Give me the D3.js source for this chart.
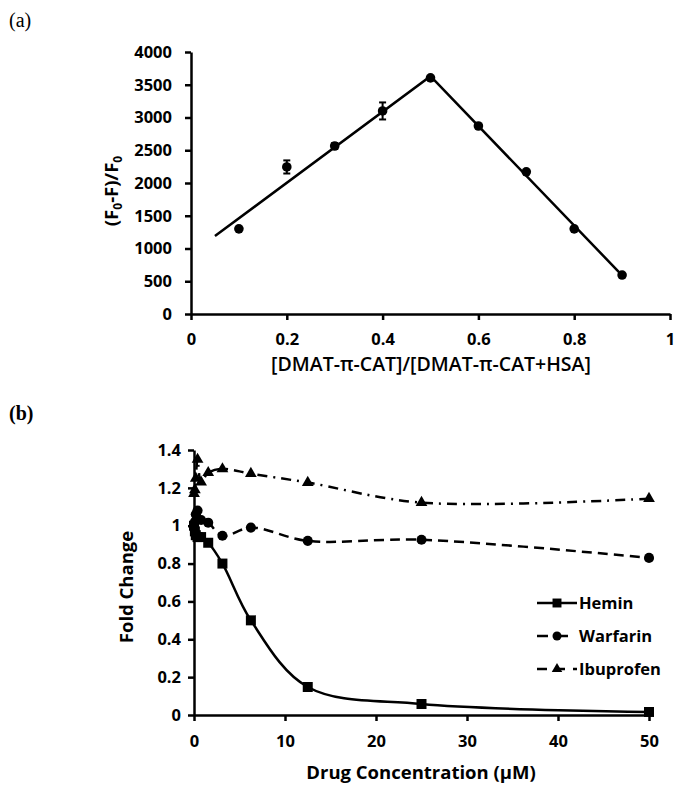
<!DOCTYPE html>
<html>
<head>
<meta charset="utf-8">
<script src="https://cdn.jsdelivr.net/npm/d3@7"></script>
<style>
  html, body { margin: 0; padding: 0; background: #fff; }
  svg { display: block; }
  .tick text { font-family: "Open Sans", Lato, sans-serif; font-weight: bold; font-size: 16.5px; fill: #000; }
  .domain, .tick line { stroke: #000; stroke-width: 2.5px; }
</style>
</head>
<body>
<svg id="chart" width="686" height="792"></svg>
<script>
// ---------- Panel (a) data ----------
const ratioA = [0.1, 0.2, 0.3, 0.4, 0.5, 0.6, 0.7, 0.8, 0.9];
const quenchA = [1300, 2245, 2565, 3100, 3605, 2870, 2170, 1300, 595];
const errA = [0, 100, 45, 130, 0, 0, 0, 0, 0];
const fitX = [0.05, 0.5, 0.9];
const fitY = [1190, 3630, 590];
const xTicksA = [0, 0.2, 0.4, 0.6, 0.8, 1];
const yTicksA = [0, 500, 1000, 1500, 2000, 2500, 3000, 3500, 4000];

// ---------- Panel (b) data ----------
const conc = [0, 0.098, 0.195, 0.39, 0.78, 1.5625, 3.125, 6.25, 12.5, 25, 50];
const hemin = [1.0, 0.97, 0.95, 0.94, 0.94, 0.91, 0.80, 0.50, 0.148, 0.058, 0.016];
const warfarin = [1.0, 1.02, 1.06, 1.08, 1.03, 1.016, 0.947, 0.99, 0.92, 0.926, 0.83];
const ibuprofen = [1.17, 1.19, 1.25, 1.35, 1.23, 1.28, 1.30, 1.275, 1.228, 1.122, 1.143];
const seriesNames = ["Hemin", "Warfarin", "Ibuprofen"];
const xTicksB = [0, 10, 20, 30, 40, 50];
const yTicksB = [0, 0.2, 0.4, 0.6, 0.8, 1, 1.2, 1.4];

const svg = d3.select("#chart");
const FONT = "'Open Sans', Lato, sans-serif";

// ================= Panel (a) =================
const xA = d3.scaleLinear().domain([0, 1]).range([191, 670]);
const yA = d3.scaleLinear().domain([0, 4000]).range([314, 52]);

svg.append("text").attr("x", 9).attr("y", 27)
  .attr("font-family", "'Liberation Serif', serif").attr("font-size", 20)
  .text("(a)");

svg.append("g").attr("transform", `translate(0,${yA(0)})`)
  .call(d3.axisBottom(xA).tickValues(xTicksA).tickFormat(d3.format("")).tickSize(6).tickSizeOuter(0).tickPadding(13));
svg.append("g").attr("transform", `translate(${xA(0)},0)`)
  .call(d3.axisLeft(yA).tickValues(yTicksA).tickFormat(d3.format("")).tickSize(6).tickSizeOuter(0).tickPadding(13));

const fitData = fitX.map((x, i) => [x, fitY[i]]);
svg.append("path").datum(fitData)
  .attr("fill", "none").attr("stroke", "#000").attr("stroke-width", 2.5)
  .attr("d", d3.line().x(d => xA(d[0])).y(d => yA(d[1])));

const ptsA = ratioA.map((x, i) => ({ x, y: quenchA[i], e: errA[i] }));
const eb = svg.append("g");
ptsA.filter(d => d.e > 0).forEach(d => {
  const cx = xA(d.x);
  eb.append("line").attr("x1", cx).attr("x2", cx).attr("y1", yA(d.y - d.e)).attr("y2", yA(d.y + d.e)).attr("stroke", "#000").attr("stroke-width", 2);
  [d.y - d.e, d.y + d.e].forEach(v => eb.append("line").attr("x1", cx - 3.5).attr("x2", cx + 3.5).attr("y1", yA(v)).attr("y2", yA(v)).attr("stroke", "#000").attr("stroke-width", 2));
});
svg.append("g").selectAll("circle").data(ptsA).join("circle")
  .attr("cx", d => xA(d.x)).attr("cy", d => yA(d.y)).attr("r", 4.8).attr("fill", "#000");

svg.append("text").attr("x", 431).attr("y", 371).attr("text-anchor", "middle")
  .attr("font-family", FONT).attr("font-size", 19.5).attr("font-weight", 600)
  .text("[DMAT-π-CAT]/[DMAT-π-CAT+HSA]");

const ytA = svg.append("text").attr("transform", "translate(118,191) rotate(-90)").attr("text-anchor", "middle")
  .attr("font-family", FONT).attr("font-size", 18.5).attr("font-weight", "bold");
ytA.append("tspan").text("(F");
ytA.append("tspan").attr("font-size", 12).attr("dy", 4).text("0");
ytA.append("tspan").attr("dy", -4).text("-F)/F");
ytA.append("tspan").attr("font-size", 12).attr("dy", 4).text("0");

// ================= Panel (b) =================
const xB = d3.scaleLinear().domain([0, 50]).range([194, 649]);
const yB = d3.scaleLinear().domain([0, 1.4]).range([715, 450]);

svg.append("text").attr("x", 9).attr("y", 420)
  .attr("font-family", "'Liberation Serif', serif").attr("font-size", 20).attr("font-weight", "bold")
  .text("(b)");

svg.append("g").attr("transform", `translate(0,${yB(0)})`)
  .call(d3.axisBottom(xB).tickValues(xTicksB).tickFormat(d3.format("")).tickSize(6).tickSizeOuter(0).tickPadding(14));
svg.append("g").attr("transform", `translate(${xB(0)},0)`)
  .call(d3.axisLeft(yB).tickValues(yTicksB).tickFormat(d3.format("")).tickSize(6).tickSizeOuter(0).tickPadding(7));

const styles = [
  { name: seriesNames[0], vals: hemin, dash: null, marker: "square" },
  { name: seriesNames[1], vals: warfarin, dash: "10,6", marker: "circle" },
  { name: seriesNames[2], vals: ibuprofen, dash: "10,6,2,6", marker: "triangle" }
];
const symType = { square: d3.symbolSquare, circle: d3.symbolCircle, triangle: d3.symbolTriangle };
const symSize = { square: 100, circle: 80, triangle: 60 };

const lineB = d3.line().x(d => xB(d[0])).y(d => yB(d[1])).curve(d3.curveCatmullRom.alpha(0.5));

styles.forEach(s => {
  const pts = conc.map((c, i) => [c, s.vals[i]]);
  const p = svg.append("path").datum(pts).attr("fill", "none").attr("stroke", "#000").attr("stroke-width", 2.5).attr("d", lineB);
  if (s.dash) p.attr("stroke-dasharray", s.dash);
  svg.append("g").selectAll("path").data(pts).join("path")
    .attr("transform", d => `translate(${xB(d[0])},${yB(d[1])})`)
    .attr("d", d3.symbol().type(symType[s.marker]).size(symSize[s.marker]))
    .attr("fill", "#000");
});

// legend
const legY = [603, 636, 669];
styles.forEach((s, i) => {
  const g = svg.append("g").attr("transform", `translate(537,${legY[i]})`);
  const l = g.append("line").attr("x1", 0).attr("x2", 40).attr("y1", 0).attr("y2", 0).attr("stroke", "#000").attr("stroke-width", 2.5);
  if (s.dash) l.attr("stroke-dasharray", i === 1 ? "11,9" : "10,8,0,0");
  g.append("path").attr("transform", "translate(20,0)").attr("d", d3.symbol().type(symType[s.marker]).size(symSize[s.marker]*0.8)).attr("fill", "#000");
  g.append("text").attr("x", 42).attr("y", 6).attr("font-family", FONT).attr("font-size", 16.5).attr("font-weight", "bold").text(s.name);
});

svg.append("text").attr("x", 421).attr("y", 779).attr("text-anchor", "middle")
  .attr("font-family", FONT).attr("font-size", 18.5).attr("font-weight", "bold")
  .text("Drug Concentration (μM)");
svg.append("text").attr("transform", "translate(133,587) rotate(-90)").attr("text-anchor", "middle")
  .attr("font-family", FONT).attr("font-size", 18.5).attr("font-weight", "bold")
  .text("Fold Change");
</script>
</body>
</html>
